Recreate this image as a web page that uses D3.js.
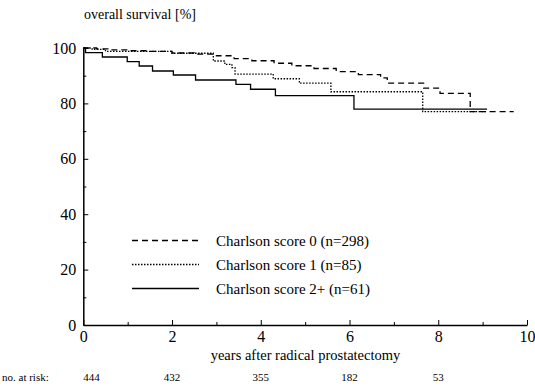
<!DOCTYPE html>
<html>
<head>
<meta charset="utf-8">
<script src="https://cdn.jsdelivr.net/npm/d3@7"></script>
<style>
body { margin: 0; background: #fff; }
</style>
</head>
<body>
<div id="chart"></div>
<script>
// Kaplan-Meier step curves (time in years, survival in %)
var times0 = [0, 0.3, 0.6, 1.0, 1.5, 2.0, 2.5, 3.0, 3.4, 3.8, 4.3, 4.7, 5.2, 5.7, 6.2, 6.7, 6.85, 7.67, 8.04, 8.72, 9.7];
var surv0  = [100, 99.7, 99.3, 99.0, 98.8, 98.2, 97.8, 97.2, 96.2, 95.4, 94.5, 93.6, 92.6, 91.5, 90.4, 89.2, 87.3, 85.5, 83.6, 77.0, 77.0];

var times1 = [0, 0.2, 0.5, 2.0, 2.93, 3.19, 3.35, 3.42, 4.28, 4.87, 5.58, 7.65, 9.1];
var surv1  = [100, 99.5, 98.8, 98.1, 95.3, 94.1, 92.9, 90.6, 88.9, 87.3, 84.2, 77.0, 77.0];

var times2 = [0, 0.05, 0.43, 0.99, 1.26, 1.56, 2.03, 2.53, 3.44, 3.77, 4.33, 6.10, 9.1];
var surv2  = [100, 98.3, 96.75, 95.05, 93.5, 91.7, 90.25, 88.45, 86.9, 85.1, 82.8, 77.9, 77.9];

var seriesNames = ["Charlson score 0 (n=298)", "Charlson score 1 (n=85)", "Charlson score 2+ (n=61)"];
var dashes = ["6,4", "1.5,1.5", null];

var xTicks = [0, 2, 4, 6, 8, 10];
var yTicks = [0, 20, 40, 60, 80, 100];
var riskYears = [0, 2, 4, 6, 8];
var atRisk = [444, 432, 355, 182, 53];

var serif = "Liberation Serif";
var width = 535, height = 388;
var margin = {top: 48, right: 8, bottom: 63, left: 83.3};

var svg = d3.select("#chart")
	.append("svg")
	.attr("width", width)
	.attr("height", height);

var x = d3.scaleLinear().domain([0, 10]).range([margin.left, width - margin.right]);
var y = d3.scaleLinear().domain([0, 100]).range([height - margin.bottom, margin.top]);

// axes, ticks pointing inward
svg.append("g")
	.attr("transform", "translate(0," + y(0) + ")")
	.call(d3.axisBottom(x).tickValues(xTicks).tickSizeInner(-5).tickSizeOuter(0).tickPadding(6))
	.selectAll("text")
	.style("font-family", serif)
	.style("font-size", "16px");

svg.append("g")
	.attr("transform", "translate(0," + y(0) + ")")
	.call(d3.axisBottom(x).tickValues([1, 3, 5, 7, 9]).tickSizeInner(-3).tickSizeOuter(0).tickFormat(""))
	.select(".domain").remove();

svg.append("g")
	.attr("transform", "translate(" + x(0) + ",0)")
	.call(d3.axisLeft(y).tickValues(yTicks).tickSizeInner(-5).tickSizeOuter(0).tickPadding(7))
	.selectAll("text")
	.style("font-family", serif)
	.style("font-size", "16px");

svg.append("g")
	.attr("transform", "translate(" + x(0) + ",0)")
	.call(d3.axisLeft(y).tickValues([10, 30, 50, 70, 90]).tickSizeInner(-3).tickSizeOuter(0).tickFormat(""))
	.select(".domain").remove();

svg.selectAll(".domain").attr("stroke-width", 1.5);

// curves
var line = d3.line()
	.x(function(d){ return x(d[0]); })
	.y(function(d){ return y(d[1]); })
	.curve(d3.curveStepAfter);

var curves = [d3.zip(times0, surv0), d3.zip(times1, surv1), d3.zip(times2, surv2)];

curves.forEach(function(c, i){
	svg.append("path")
		.datum(c)
		.attr("fill", "none")
		.attr("stroke", "#000")
		.attr("stroke-width", 1.3)
		.attr("stroke-dasharray", dashes[i])
		.attr("d", line);
});

// legend
seriesNames.forEach(function(name, i){
	var ly = 240.5 + i * 24;
	svg.append("line")
		.attr("x1", 132).attr("x2", 199)
		.attr("y1", ly).attr("y2", ly)
		.attr("stroke", "#000")
		.attr("stroke-width", 1.3)
		.attr("stroke-dasharray", dashes[i]);
	svg.append("text")
		.attr("x", 216)
		.attr("y", ly + 5)
		.style("font-family", serif)
		.style("font-size", "15px")
		.text(name);
});

// titles
svg.append("text")
	.attr("x", 84)
	.attr("y", 19)
	.style("font-family", serif)
	.style("font-size", "14px")
	.text("overall survival [%]");

svg.append("text")
	.attr("x", 305.5)
	.attr("y", 360)
	.attr("text-anchor", "middle")
	.style("font-family", serif)
	.style("font-size", "14.5px")
	.text("years after radical prostatectomy");

// numbers at risk
svg.append("text")
	.attr("x", 2)
	.attr("y", 381)
	.style("font-family", serif)
	.style("font-size", "11px")
	.text("no. at risk:");

svg.selectAll(".risk")
	.data(atRisk)
	.enter()
	.append("text")
	.attr("class", "risk")
	.attr("x", function(d, i){ return x(riskYears[i]); })
	.attr("y", 381)
	.attr("text-anchor", function(d, i){ return i == 0 ? "start" : "middle"; })
	.style("font-family", serif)
	.style("font-size", "11px")
	.text(function(d){ return d; });
</script>
</body>
</html>
